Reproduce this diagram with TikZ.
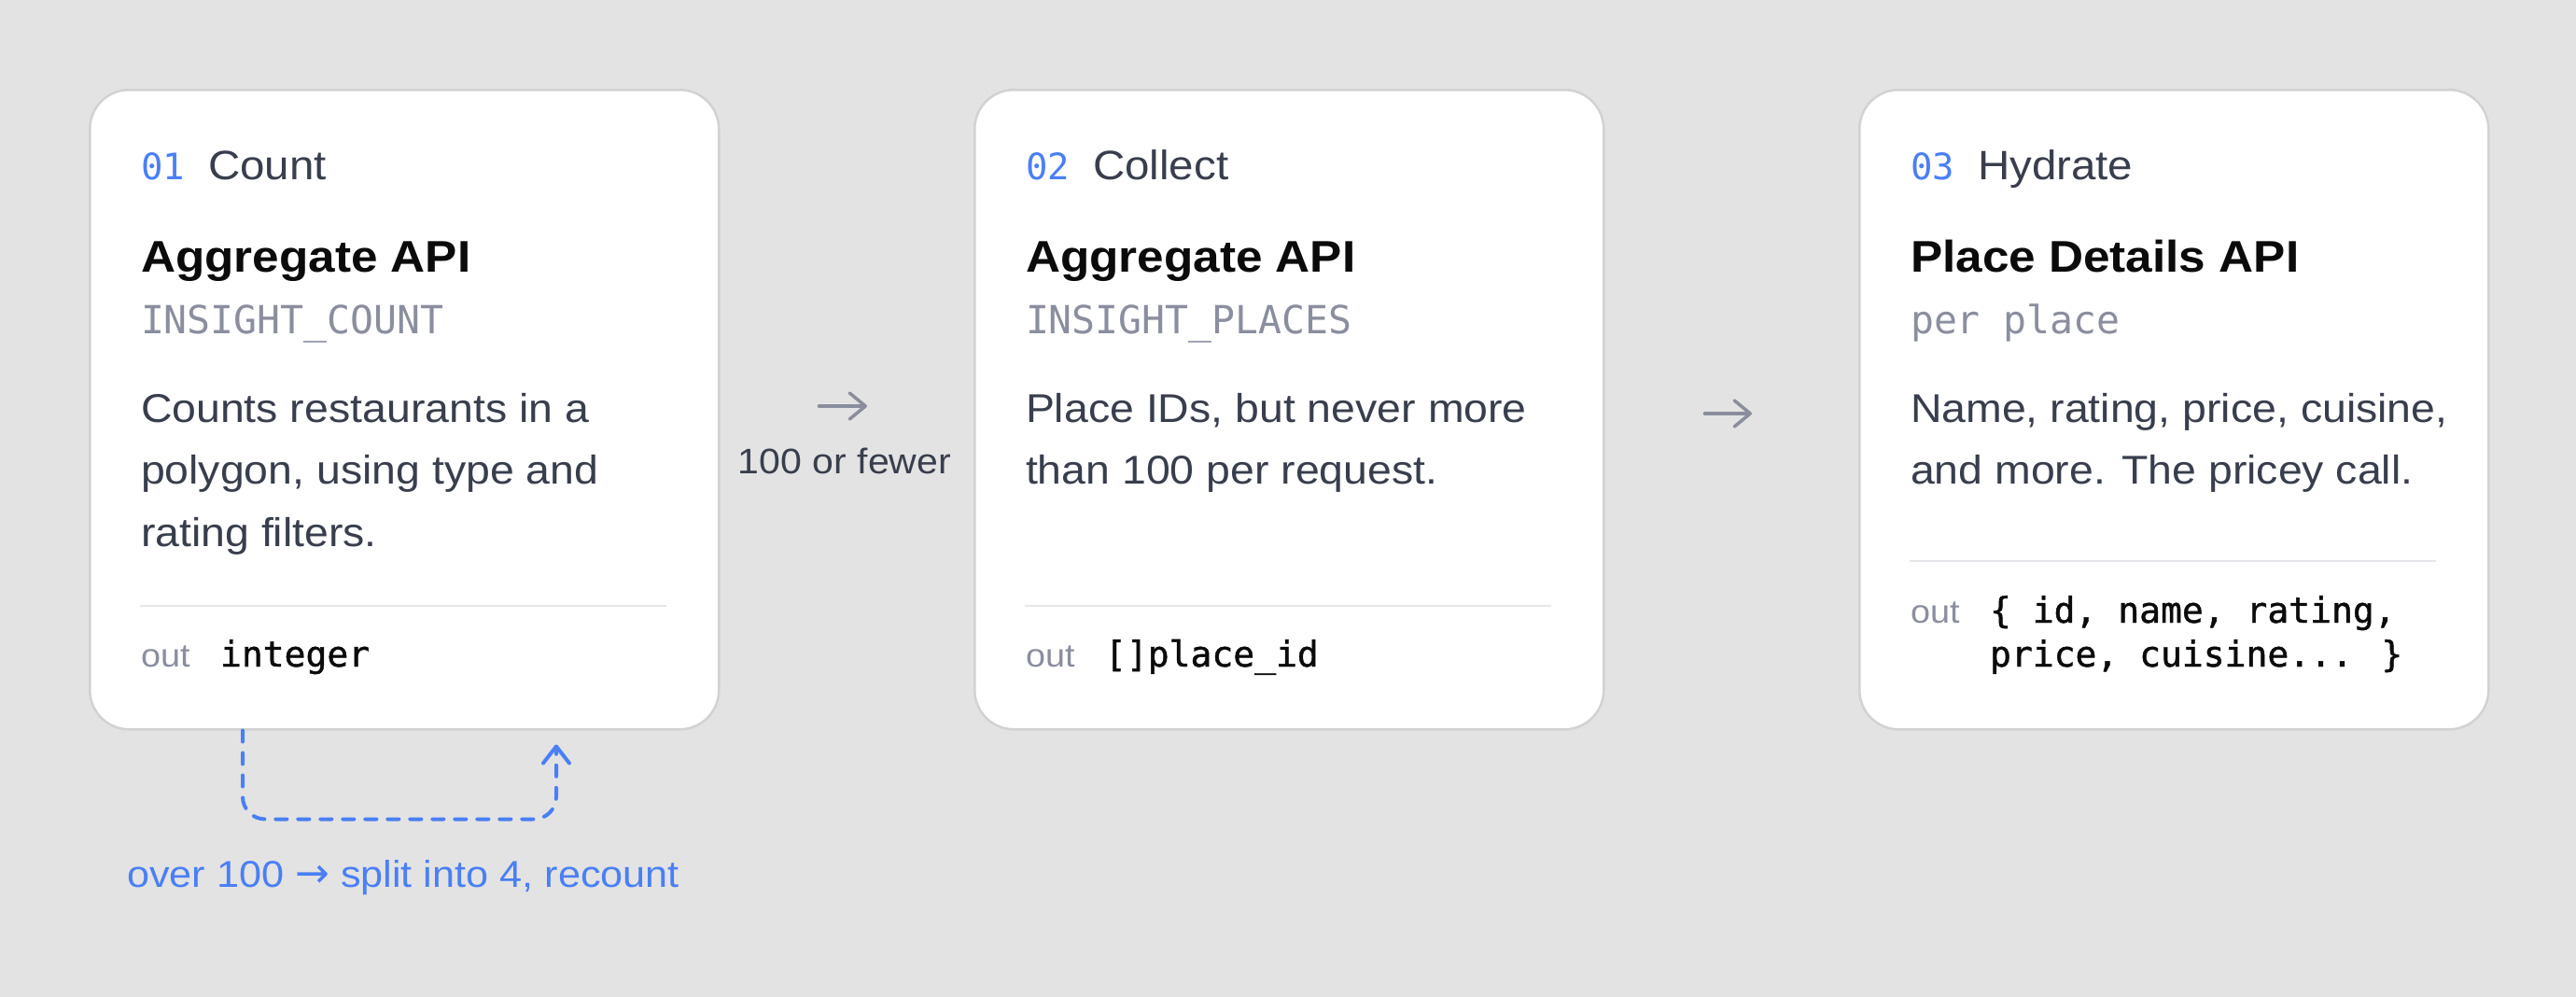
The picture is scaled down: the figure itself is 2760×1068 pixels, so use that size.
\documentclass[tikz,border=0pt]{standalone}
\usepackage{fontspec}
\setmainfont{Liberation Sans}[FakeStretch=1.08]
\newfontfamily\monof{DejaVu Sans Mono}
\newfontfamily\codef{DejaVu Sans Mono}[FakeBold=1.2]
\newfontfamily\symf{DejaVu Sans}
\usetikzlibrary{arrows.meta,calc}
\definecolor{bg}{HTML}{E3E3E3}
\definecolor{cardborder}{HTML}{D2D2D2}
\definecolor{accent}{HTML}{4A7FF5}
\definecolor{slate}{HTML}{383E4C}
\definecolor{ink}{HTML}{0B0B0B}
\definecolor{muted}{HTML}{8A8E9E}
\definecolor{rulec}{HTML}{E5E7EB}
\definecolor{arrowc}{HTML}{8A8D9C}
\begin{document}
\begin{tikzpicture}[x=1pt,y=-1pt,
  card/.style={draw=cardborder, line width=2.5pt, fill=white, rounded corners=42pt,
    minimum width=674pt, minimum height=685pt, anchor=north west, inner sep=0pt},
  txt/.style={anchor=base west, inner sep=0pt, outer sep=0pt},
  num/.style={txt, font=\monof\fontsize{39}{39}\selectfont, text=accent},
  stage/.style={txt, font=\fontsize{44}{44}\selectfont, text=slate},
  api/.style={txt, font=\bfseries\fontsize{47.5}{47.5}\selectfont, text=ink},
  sub/.style={txt, font=\monof\fontsize{41.5}{41.5}\selectfont, text=muted},
  body/.style={txt, font=\fontsize{43}{43}\selectfont, text=slate},
  outl/.style={txt, font=\fontsize{35}{35}\selectfont, text=muted},
  code/.style={txt, font=\codef\fontsize{38}{38}\selectfont, text=ink},
  rule/.style={draw=rulec, line width=2.5pt},
  flow/.style={draw=arrowc, line width=3.5pt, line cap=round,
    -{Straight Barb[length=17pt,width=28pt,round]}},
  loopline/.style={draw=accent, line width=4pt, dash pattern=on 12pt off 12pt,
    line cap=round, rounded corners=24pt,
    -{Straight Barb[length=18pt,width=28pt,round]}},
  note/.style={anchor=base, inner sep=0pt, font=\fontsize{38}{38}\selectfont, text=slate},
  loopnote/.style={anchor=base, inner sep=0pt, font=\fontsize{40}{40}\selectfont, text=accent}
]
\fill[bg] (0,0) rectangle (2760,1068);
\useasboundingbox (0,0) rectangle (2760,1068);

% cards
\node[card] (c1) at (95,95) {};
\node[card] (c2) at (1043,95) {};
\node[card] (c3) at (1991,95) {};

% card 1
\node[num] (n1) at (151,192) {01};
\node[stage] (h1) at (223,192) {Count};
\node[api] (t1) at (151,291) {Aggregate API};
\node[sub] (s1) at (151,357) {INSIGHT\_COUNT};
\node[body] (b1a) at (151,452) {Counts restaurants in a};
\node[body] (b1b) at (151,518) {polygon, using type and};
\node[body] (b1c) at (151,585) {rating filters.};
\draw[rule] (150,649) -- (714,649);
\node[outl] (o1) at (151,714) {out};
\node[code] (v1) at (236,714) {integer};

% card 2
\node[num] (n2) at (1099,192) {02};
\node[stage] (h2) at (1171,192) {Collect};
\node[api] (t2) at (1099,291) {Aggregate API};
\node[sub] (s2) at (1099,357) {INSIGHT\_PLACES};
\node[body] (b2a) at (1099,452) {Place IDs, but never more};
\node[body] (b2b) at (1099,518) {than 100 per request.};
\draw[rule] (1098,649) -- (1662,649);
\node[outl] (o2) at (1099,714) {out};
\node[code] (v2) at (1184,714) {[]place\_id};

% card 3
\node[num] (n3) at (2047,192) {03};
\node[stage] (h3) at (2119,192) {Hydrate};
\node[api] (t3) at (2047,291) {Place Details API};
\node[sub] (s3) at (2047,357) {per place};
\node[body] (b3a) at (2047,452) {Name, rating, price, cuisine,};
\node[body] (b3b) at (2047,518) {and more. The pricey call.};
\draw[rule] (2046,601) -- (2610,601);
\node[outl] (o3) at (2047,667) {out};
\node[code] (v3a) at (2132,667) {\{ id, name, rating,};
\node[code] (v3b) at (2132,714) {price, cuisine... \}};

% connectors
\draw[flow, shorten <=106pt, shorten >=114pt] (c1.east |- 0,435) -- (c2.west |- 0,435);
\node[note] (l1) at (905,507) {100 or fewer};
\draw[flow, shorten <=107pt, shorten >=114pt] (c2.east |- 0,443) -- (c3.west |- 0,443);

% recount loop
\draw[loopline] ($(c1.south west)+(165,0)$) |- ($(c1.south west)+(501,95)$) -- ($(c1.south west)+(501,15)$);
\node[loopnote] (l2) at (432,950) {over 100 {\symf\fontsize{44}{44}\selectfont →} split into 4, recount};
\end{tikzpicture}
\end{document}
